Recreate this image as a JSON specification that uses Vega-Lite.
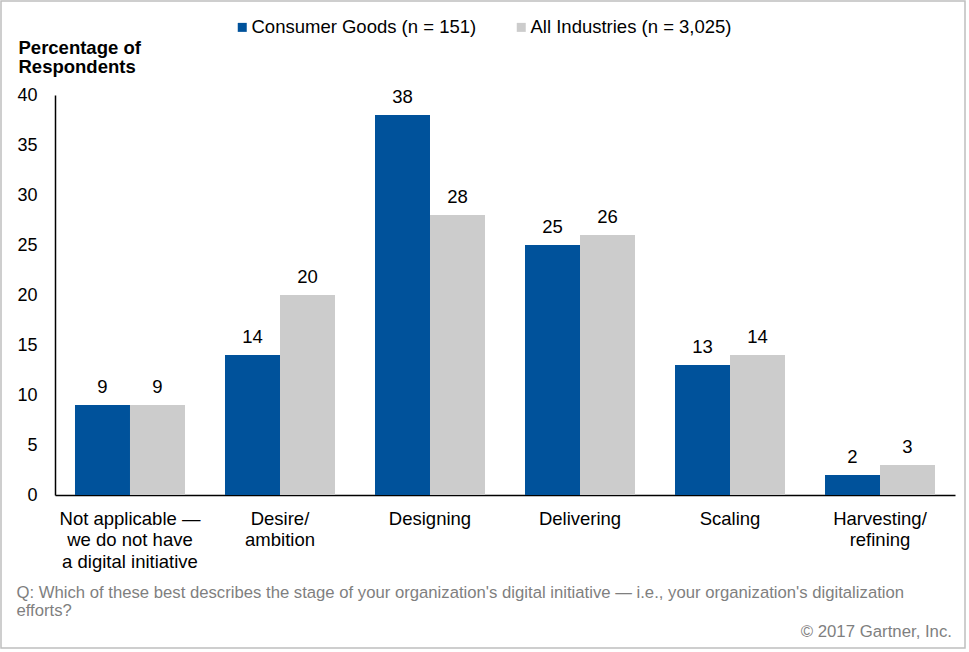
{
  "$schema": "https://vega.github.io/schema/vega-lite/v6.json",
  "width": 964,
  "height": 647,
  "autosize": {"type": "none"},
  "padding": {"left": 1, "top": 1, "right": 4, "bottom": 4},
  "background": "white",
  "view": {"stroke": "#BFBFBF", "strokeWidth": 1.5, "fill": "white"},
  "config": {
    "font": "Liberation Sans",
    "text": {"font": "Liberation Sans"}
  },
  "title": {
    "text": "© 2017 Gartner, Inc.",
    "orient": "bottom",
    "anchor": "end",
    "frame": "group",
    "offset": 0,
    "dx": -13,
    "dy": -11,
    "baseline": "alphabetic",
    "fontSize": 16.8,
    "fontWeight": "normal",
    "color": "#7F7F7F",
    "font": "Liberation Sans"
  },
  "data": {
    "values": [
      {"stage": "Not applicable —|we do not have|a digital initiative", "series": "Consumer Goods (n = 151)", "pct": 9},
      {"stage": "Not applicable —|we do not have|a digital initiative", "series": "All Industries (n = 3,025)", "pct": 9},
      {"stage": "Desire/|ambition", "series": "Consumer Goods (n = 151)", "pct": 14},
      {"stage": "Desire/|ambition", "series": "All Industries (n = 3,025)", "pct": 20},
      {"stage": "Designing", "series": "Consumer Goods (n = 151)", "pct": 38},
      {"stage": "Designing", "series": "All Industries (n = 3,025)", "pct": 28},
      {"stage": "Delivering", "series": "Consumer Goods (n = 151)", "pct": 25},
      {"stage": "Delivering", "series": "All Industries (n = 3,025)", "pct": 26},
      {"stage": "Scaling", "series": "Consumer Goods (n = 151)", "pct": 13},
      {"stage": "Scaling", "series": "All Industries (n = 3,025)", "pct": 14},
      {"stage": "Harvesting/|refining", "series": "Consumer Goods (n = 151)", "pct": 2},
      {"stage": "Harvesting/|refining", "series": "All Industries (n = 3,025)", "pct": 3}
    ]
  },
  "encoding": {
    "x": {
      "field": "stage",
      "type": "nominal",
      "sort": [
        "Not applicable —|we do not have|a digital initiative",
        "Desire/|ambition",
        "Designing",
        "Delivering",
        "Scaling",
        "Harvesting/|refining"
      ],
      "scale": {"range": [54, 954], "paddingInner": 0.2667, "paddingOuter": 0.1333},
      "axis": {
        "orient": "bottom",
        "offset": -153,
        "domainColor": "#000000",
        "domainWidth": 1.5,
        "ticks": false,
        "grid": false,
        "labelAngle": 0,
        "labelPadding": 14,
        "labelFontSize": 18.5,
        "labelLineHeight": 21.7,
        "labelColor": "#000000",
        "labelFont": "Liberation Sans",
        "labelExpr": "split(datum.label, '|')",
        "title": [
          "Q: Which of these best describes the stage of your organization's digital initiative — i.e., your organization's digitalization",
          "efforts?"
        ],
        "titleAnchor": "start",
        "titleAlign": "left",
        "titleBaseline": "alphabetic",
        "titleX": 15,
        "titleY": 102,
        "titleFontSize": 16.7,
        "titleFontWeight": "normal",
        "titleColor": "#7F7F7F",
        "titleLineHeight": 18,
        "titleFont": "Liberation Sans"
      }
    },
    "xOffset": {
      "field": "series",
      "type": "nominal",
      "sort": ["Consumer Goods (n = 151)", "All Industries (n = 3,025)"]
    },
    "y": {
      "field": "pct",
      "type": "quantitative",
      "scale": {"domain": [0, 40], "range": [494, 94], "nice": false},
      "axis": {
        "orient": "left",
        "offset": -54,
        "values": [0, 5, 10, 15, 20, 25, 30, 35, 40],
        "domainColor": "#000000",
        "domainWidth": 1.5,
        "ticks": false,
        "grid": false,
        "labelPadding": 18,
        "labelFontSize": 18,
        "labelColor": "#000000",
        "labelFont": "Liberation Sans",
        "title": ["Percentage of", "Respondents"],
        "titleAngle": 0,
        "titleAlign": "left",
        "titleBaseline": "alphabetic",
        "titleX": -37,
        "titleY": 52,
        "titleFontSize": 18.5,
        "titleFontWeight": "bold",
        "titleColor": "#000000",
        "titleLineHeight": 19.5,
        "titleFont": "Liberation Sans"
      }
    }
  },
  "layer": [
    {
      "mark": {"type": "bar"},
      "encoding": {
        "color": {
          "field": "series",
          "type": "nominal",
          "scale": {
            "domain": ["Consumer Goods (n = 151)", "All Industries (n = 3,025)"],
            "range": ["#00529B", "#CCCCCC"]
          },
          "legend": {
            "orient": "none",
            "legendX": 232,
            "legendY": 17,
            "direction": "horizontal",
            "title": null,
            "padding": 0,
            "symbolType": "square",
            "symbolSize": 81,
            "symbolStrokeWidth": 0,
            "symbolOpacity": 1,
            "labelFontSize": 18.5,
            "labelColor": "#000000",
            "labelFont": "Liberation Sans",
            "labelOffset": 0,
            "columnPadding": 35,
            "labelLimit": 400
          }
        }
      }
    },
    {
      "mark": {
        "type": "text",
        "baseline": "alphabetic",
        "align": "center",
        "dy": -12,
        "fontSize": 18.5,
        "color": "#000000"
      },
      "encoding": {
        "text": {"field": "pct", "type": "quantitative"}
      }
    }
  ]
}
